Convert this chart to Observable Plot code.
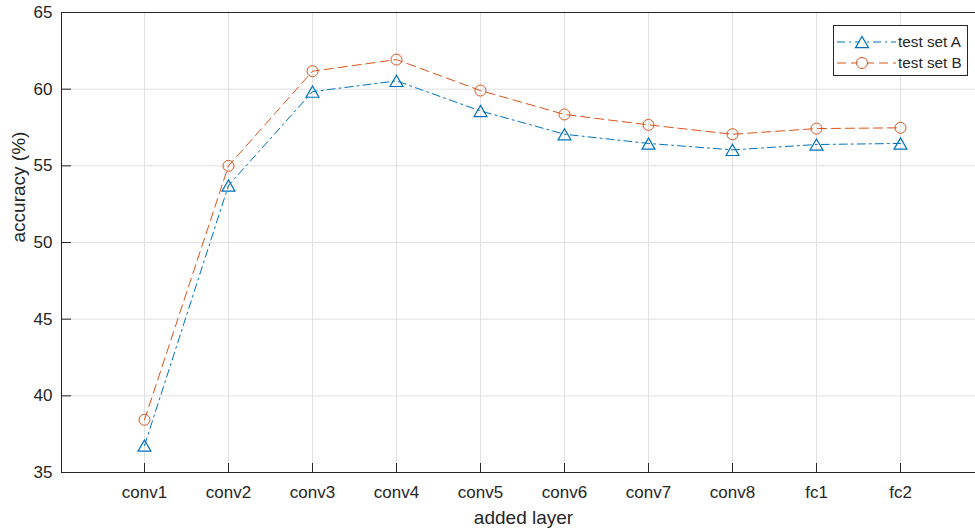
<!DOCTYPE html>
<html><head><meta charset="utf-8">
<script src="https://cdn.jsdelivr.net/npm/d3@7"></script>
<script src="https://cdn.jsdelivr.net/npm/@observablehq/plot@0.6"></script>
<style>
body{margin:0;background:#fff;}
#wrap{position:relative;width:975px;height:531px;font-family:"Liberation Sans",Arial,sans-serif;overflow:hidden;}
#legend{position:absolute;left:833px;top:25px;width:135px;height:51px;border:1px solid #262626;background:#fff;box-sizing:border-box;}
</style></head><body><div id="wrap"><div id="chart"></div><div id="legend"></div></div>
<script>
const layers = ["conv1","conv2","conv3","conv4","conv5","conv6","conv7","conv8","fc1","fc2"];
const testSetA = [36.76, 53.72, 59.84, 60.54, 58.58, 57.06, 56.46, 56.04, 56.39, 56.46];
const testSetB = [38.44, 55.0, 61.17, 61.93, 59.91, 58.35, 57.67, 57.06, 57.43, 57.48];
const yTicks = [35, 40, 45, 50, 55, 60, 65];
const seriesNames = ["test set A", "test set B"];

const xIdx = layers.map((_, i) => i + 1);
const rows = layers.map((l, i) => ({i: i + 1, a: testSetA[i], b: testSetB[i]}));
const colorA = "#0072BD", colorB = "#D95319";
const axisColor = "#262626";
const gridColor = "#e0e0e0";
const dashA = "8,4,2,4", dashB = "9,5";

const chart = Plot.plot({
  width: 975, height: 531,
  marginLeft: 61, marginTop: 12, marginBottom: 59, marginRight: -10,
  style: {fontFamily: "Liberation Sans, Arial, sans-serif", fontSize: "17px", color: axisColor, background: "#fff"},
  x: {domain: [0, 11], range: [60, 984]},
  y: {domain: [35, 65], range: [472, 12]},
  marks: [
    Plot.gridX(xIdx, {stroke: gridColor, strokeOpacity: 1}),
    Plot.gridY(yTicks, {stroke: gridColor, strokeOpacity: 1}),
    Plot.line(rows, {x: "i", y: "a", stroke: colorA, strokeWidth: 1, strokeDasharray: dashA}),
    Plot.line(rows, {x: "i", y: "b", stroke: colorB, strokeWidth: 1, strokeDasharray: dashB}),
    Plot.dot(rows, {x: "i", y: "a", symbol: "triangle", r: 4.8, stroke: colorA, fill: "none", strokeWidth: 1.2, dy: 1.9}),
    Plot.dot(rows, {x: "i", y: "b", symbol: "circle", r: 5.5, stroke: colorB, fill: "none", strokeWidth: 1}),
    Plot.frame({stroke: axisColor}),
    Plot.axisX(xIdx, {label: null, tickSize: -9, tickPadding: 22, tickFormat: i => layers[i - 1], fontSize: 17, stroke: axisColor, fill: axisColor}),
    Plot.axisY(yTicks, {label: null, tickSize: -10, tickPadding: 19, fontSize: 17, stroke: axisColor, fill: axisColor}),
    Plot.text(["added layer"], {frameAnchor: "bottom", dy: 51, fontSize: 19, fill: axisColor}),
    Plot.text(["accuracy (%)"], {frameAnchor: "left", dx: -43, rotate: -90, fontSize: 19, fill: axisColor})
  ]
});
document.getElementById("chart").appendChild(chart);

// legend
const lg = d3.select("#legend").append("svg").attr("width", 133).attr("height", 49).style("display", "block");
const entries = [
  {name: seriesNames[0], color: colorA, dash: dashA, sym: d3.symbolTriangle},
  {name: seriesNames[1], color: colorB, dash: dashB, sym: d3.symbolCircle}
];
entries.forEach((e, k) => {
  const cy = 16 + k * 21;
  lg.append("line").attr("x1", 3).attr("x2", 62).attr("y1", cy).attr("y2", cy)
    .attr("stroke", e.color).attr("stroke-width", 1).attr("stroke-dasharray", e.dash);
  const size = e.sym === d3.symbolCircle ? Math.PI * 5.5 * 5.5 : Math.PI * 4.8 * 4.8;
  lg.append("path").attr("d", d3.symbol(e.sym, size)())
    .attr("transform", `translate(28,${cy + (e.sym === d3.symbolTriangle ? 1.9 : 0)})`)
    .attr("fill", "#fff").attr("stroke", e.color).attr("stroke-width", e.sym === d3.symbolTriangle ? 1.2 : 1);
  lg.append("text").attr("x", 64).attr("y", cy).attr("dy", "0.35em")
    .attr("font-size", 15.3).attr("fill", axisColor).attr("font-family", "Liberation Sans, Arial, sans-serif")
    .text(e.name);
});
</script>
</body></html>
